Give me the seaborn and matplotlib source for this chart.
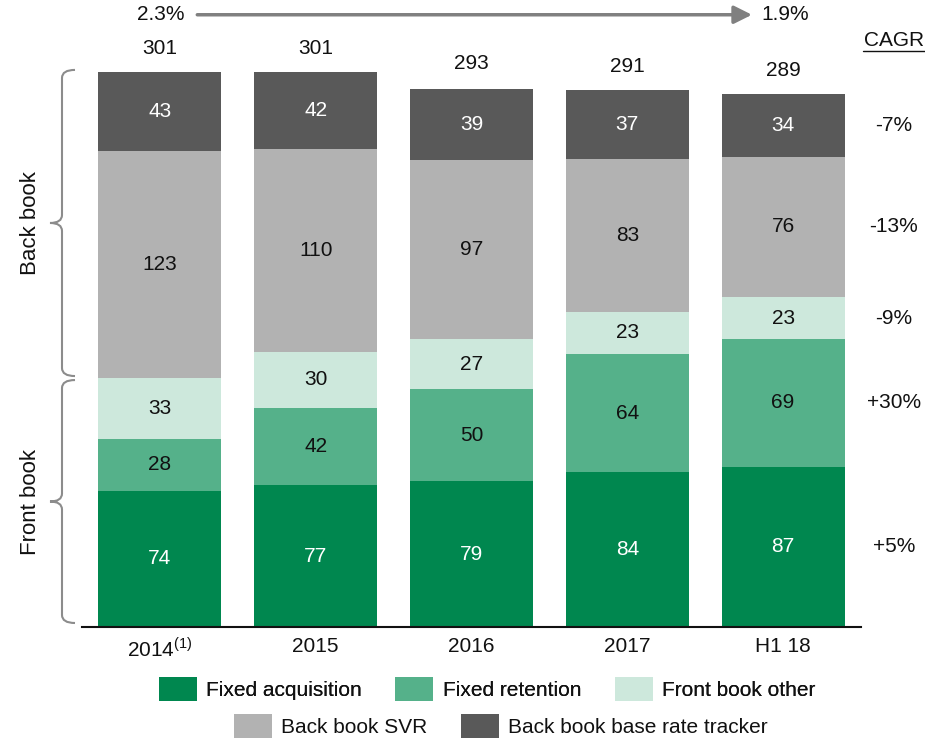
import matplotlib
matplotlib.use("Agg")
import matplotlib.pyplot as plt
import seaborn as sns
import pandas as pd
import numpy as np
from matplotlib.patches import Patch, PathPatch
from matplotlib.path import Path

# ---------------- data ----------------
periods = ["2014", "2015", "2016", "2017", "H1 18"]
tick_labels = ["2014$^{\\mathregular{(1)}}$", "2015", "2016", "2017", "H1 18"]
fixed_acquisition = [74, 77, 79, 84, 87]
fixed_retention = [28, 42, 50, 64, 69]
front_book_other = [33, 30, 27, 23, 23]
back_book_svr = [123, 110, 97, 83, 76]
back_book_tracker = [43, 42, 39, 37, 34]
totals = [301, 301, 293, 291, 289]
series_names = ["Fixed acquisition", "Fixed retention", "Front book other",
                "Back book SVR", "Back book base rate tracker"]
cagr = ["+5%", "+30%", "-9%", "-13%", "-7%"]
total_cagr_start = "2.3%"
total_cagr_end = "1.9%"

colors = ["#00874F", "#55B18A", "#CDE8DC", "#B2B2B2", "#595959"]
label_colors = ["white", "#111111", "#111111", "#111111", "white"]
FS = 15

sns.set_theme(style="white")
plt.rcParams["font.family"] = ["Liberation Sans", "DejaVu Sans"]
plt.rcParams["mathtext.fontset"] = "custom"
plt.rcParams["mathtext.rm"] = "Liberation Sans"

fig = plt.figure(figsize=(9.25, 7.38), dpi=100)
W, H = 925, 738
ax = fig.add_axes([82 / W, (H - 627) / H, 779 / W, 627 / H])

series = [fixed_acquisition, fixed_retention, front_book_other, back_book_svr, back_book_tracker]
bottom = np.zeros(len(periods))
for name, vals, col, lc in zip(series_names, series, colors, label_colors):
    df = pd.DataFrame({"period": periods, "value": vals})
    sns.barplot(data=df, x="period", y="value", color=col, width=0.79,
                bottom=bottom.copy(), ax=ax, saturation=1, linewidth=0,
                errorbar=None)
    cont = ax.containers[-1]
    ax.bar_label(cont, labels=[str(v) for v in vals], label_type="center",
                 color=lc, fontsize=FS)
    bottom += np.array(vals)

ax.set_xlim(-0.5, 4.5)
ax.set_ylim(0, 340)
ax.set_xlabel("")
ax.set_ylabel("")
ax.set_yticks([])
ax.set_xticks(range(len(periods)))
ax.set_xticklabels(tick_labels, fontsize=FS, color="#111111")
ax.tick_params(axis="x", length=0, pad=7)
for s in ["top", "right", "left"]:
    ax.spines[s].set_visible(False)
ax.spines["bottom"].set_color("#111111")
ax.spines["bottom"].set_linewidth(1.5)

# totals
for i, t in enumerate(totals):
    ax.annotate(str(t), (i, t), xytext=(0, 17), textcoords="offset points",
                ha="center", va="center", fontsize=FS, color="#111111",
                annotation_clip=False)

# CAGR column aligned with last bar's segments
cum = 0
for vals, c in zip(series, cagr):
    v = vals[-1]
    ax.text(4.71, cum + v / 2, c, ha="center", va="center", fontsize=FS,
            color="#111111", clip_on=False)
    cum += v
ax.text(4.71, 318, "CAGR", ha="center", va="center", fontsize=FS,
        color="#111111", clip_on=False)

# overlay axes in pixel coords
ov = fig.add_axes([0, 0, 1, 1], zorder=-1)
ov.set_xlim(0, W)
ov.set_ylim(H, 0)
ov.axis("off")

def data_to_px(x, y):
    px, py = ax.transData.transform((x, y))
    return px, H - py

# CAGR underline
cx, cy = data_to_px(4.71, 318)
ov.plot([cx - 31, cx + 31], [cy + 10, cy + 10], color="#111111", lw=1.0)

# top arrow
ax.annotate("", xy=(3.80, 332), xytext=(0.24, 332),
            arrowprops=dict(arrowstyle="-|>,head_length=0.9,head_width=0.45",
                            color="#808080", lw=2.5, shrinkA=0, shrinkB=0),
            annotation_clip=False)
ax.text(0.16, 332, total_cagr_start, ha="right", va="center", fontsize=FS,
        color="#111111", clip_on=False)
ax.text(3.86, 332, total_cagr_end, ha="left", va="center", fontsize=FS,
        color="#111111", clip_on=False)

# braces
front_top = fixed_acquisition[0] + fixed_retention[0] + front_book_other[0]

def brace(y0, y1, gap_top=0, gap_bot=0):
    _, yt = data_to_px(0, y1)
    _, yb = data_to_px(0, y0)
    yt += gap_top
    yb -= gap_bot
    ym = (yt + yb) / 2
    xl, xh, xt, r = 62, 75, 50, 8
    verts = [(xh, yt), (xl, yt), (xl, yt + r),
             (xl, ym - r), (xl, ym), (xt, ym),
             (xl, ym), (xl, ym + r),
             (xl, yb - r), (xl, yb), (xh, yb)]
    codes = [Path.MOVETO, Path.CURVE3, Path.CURVE3,
             Path.LINETO, Path.CURVE3, Path.CURVE3,
             Path.CURVE3, Path.CURVE3,
             Path.LINETO, Path.CURVE3, Path.CURVE3]
    ov.add_patch(PathPatch(Path(verts, codes), fill=False, edgecolor="#8C8C8C", lw=1.5))
    return ym

ym_back = brace(front_top, totals[0], gap_top=-2, gap_bot=2)
ym_front = brace(0, front_top, gap_top=2, gap_bot=4)
ov.text(31, ym_back, "Back book", rotation=90, ha="center", va="center",
        fontsize=16, color="#111111")
ov.text(31, ym_front, "Front book", rotation=90, ha="center", va="center",
        fontsize=16, color="#111111")

# legends (two centred rows)
handles = [Patch(facecolor=c, edgecolor="none") for c in colors]
leg_kw = dict(frameon=False, fontsize=FS, handlelength=1.83, handleheight=1.35,
              handletextpad=0.45, columnspacing=1.6, borderpad=0, borderaxespad=0,
              labelcolor="#111111")
leg1 = fig.legend(handles[:3], series_names[:3], ncol=3, loc="center",
                  bbox_to_anchor=(487 / W, 1 - 689 / H), **leg_kw)
fig.add_artist(leg1)
fig.legend(handles[3:], series_names[3:], ncol=2, loc="center",
           bbox_to_anchor=(501 / W, 1 - 726 / H), **leg_kw)

fig.savefig("out.png", dpi=100)
